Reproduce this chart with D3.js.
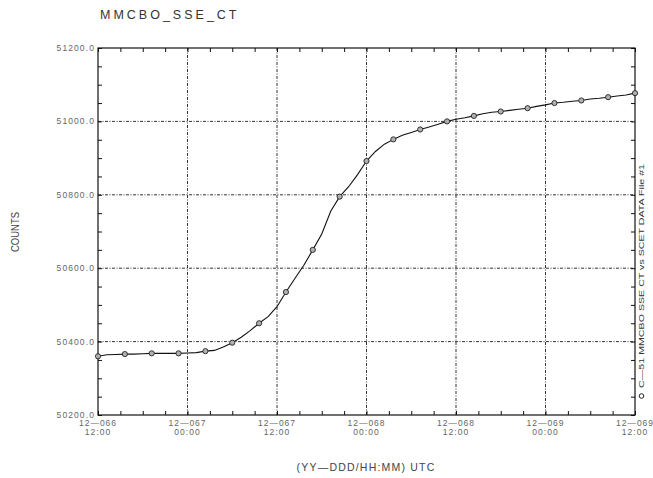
<!DOCTYPE html>
<html><head><meta charset="utf-8">
<script src="https://cdn.jsdelivr.net/npm/d3@7"></script>
<style>body{margin:0;background:#fff}svg{display:block}</style>
</head><body>
<svg id="c" width="653" height="478"></svg>
<script>
// hours since 12-066 12:00 UTC, step 1.2 h
const hours = d3.range(0, 61).map(k => k * 1.2);
const counts = [50360,50364,50365,50366,50366,50367,50368,50368,50368,50368,
  50369,50370,50374,50376,50385,50397,50412,50430,50450,50468,
  50495,50535,50572,50608,50650,50693,50755,50795,50822,50855,
  50892,50918,50938,50951,50962,50970,50978,50985,50992,51000,
  51006,51010,51015,51021,51025,51027,51030,51033,51036,51041,
  51045,51050,51052,51055,51057,51061,51063,51066,51069,51072,51077];
// marker every third sample
const markerIdx = d3.range(0, 61, 3);
const xMajor = [0, 12, 24, 36, 48, 60, 72];
const xTickLabels = [["12\u2014066","12:00"],["12\u2014067","00:00"],["12\u2014067","12:00"],
  ["12\u2014068","00:00"],["12\u2014068","12:00"],["12\u2014069","00:00"],["12\u2014069","12:00"]];
const yMajor = [50200, 50400, 50600, 50800, 51000, 51200];
const yTickLabels = ["50200.0","50400.0","50600.0","50800.0","51000.0","51200.0"];

const svg = d3.select("#c");
const x = d3.scaleLinear().domain([0, 72]).range([98, 635]);
const y = d3.scaleLinear().domain([50200, 51200]).range([415, 48]);
const L = x.range()[0], R = x.range()[1], T = y.range()[1], B = y.range()[0];

// grid
const grid = svg.append("g").attr("stroke", "#333").attr("stroke-width", 1).attr("stroke-dasharray", "3,1.5,1,1.5");
grid.selectAll("line.v").data(xMajor.slice(1, -1)).join("line")
  .attr("x1", d => x(d)).attr("x2", d => x(d)).attr("y1", T).attr("y2", B);
grid.selectAll("line.h").data(yMajor.slice(1, -1)).join("line").attr("class","h")
  .attr("y1", d => y(d)).attr("y2", d => y(d)).attr("x1", L).attr("x2", R);

// axes (ticks inside)
const minorX = d3.range(0, 73, 3), minorY = d3.range(50200, 51201, 50);
function styleAxis(g){ g.select(".domain").remove(); g.selectAll("text").remove(); g.selectAll("line").attr("stroke","#111"); }
svg.append("g").attr("transform", `translate(0,${B})`).call(d3.axisBottom(x).tickValues(minorX).tickSize(-4)).call(styleAxis);
svg.append("g").attr("transform", `translate(0,${T})`).call(d3.axisTop(x).tickValues(minorX).tickSize(-4)).call(styleAxis);
svg.append("g").attr("transform", `translate(${L},0)`).call(d3.axisLeft(y).tickValues(minorY).tickSize(-4)).call(styleAxis);
svg.append("g").attr("transform", `translate(${R},0)`).call(d3.axisRight(y).tickValues(minorY).tickSize(-4)).call(styleAxis);
svg.append("rect").attr("x", L).attr("y", T).attr("width", R - L).attr("height", B - T)
  .attr("fill", "none").attr("stroke", "#111").attr("stroke-width", 1.2);

// tick labels
const tickFont = "Liberation Sans, Arial, sans-serif";
svg.append("g").selectAll("text").data(yMajor).join("text")
  .attr("x", L - 3).attr("y", d => y(d) + 3).attr("text-anchor", "end")
  .attr("font-family", tickFont).attr("font-size", 8.5).attr("letter-spacing", 1.1).attr("fill", "#666")
  .text((d, i) => yTickLabels[i]);
const xl = svg.append("g").selectAll("text").data(xMajor).join("text")
  .attr("text-anchor", "middle").attr("font-family", tickFont).attr("font-size", 8.5)
  .attr("letter-spacing", 1).attr("fill", "#666");
xl.append("tspan").attr("x", d => x(d)).attr("y", B + 11).text((d, i) => xTickLabels[i][0]);
xl.append("tspan").attr("x", d => x(d)).attr("y", B + 20).text((d, i) => xTickLabels[i][1]);

// data line
const pts = hours.map((h, i) => [h, counts[i]]);
svg.append("path").datum(pts).attr("fill", "none").attr("stroke", "#111").attr("stroke-width", 1.1)
  .attr("d", d3.line().x(d => x(d[0])).y(d => y(d[1])));
svg.append("g").selectAll("circle").data(markerIdx).join("circle")
  .attr("cx", i => x(hours[i])).attr("cy", i => y(counts[i])).attr("r", 2.6)
  .attr("fill", "#b0b0b0").attr("stroke", "#222").attr("stroke-width", 0.9);

// titles
svg.append("text").attr("x", 100).attr("y", 19).attr("font-family", tickFont).attr("font-size", 12.5)
  .attr("letter-spacing", 3).attr("fill", "#333").text("MMCBO_SSE_CT");
svg.append("text").attr("x", 366).attr("y", 471).attr("text-anchor", "middle")
  .attr("font-family", tickFont).attr("font-size", 10.5).attr("letter-spacing", 1.2).attr("fill", "#444")
  .text("(YY\u2014DDD/HH:MM)  UTC");
svg.append("text").attr("transform", "translate(19,232) rotate(-90)").attr("text-anchor", "middle")
  .attr("font-family", "Liberation Sans Narrow, Liberation Sans, Arial, sans-serif").attr("font-size", 10.5)
  .attr("textLength", 40).attr("lengthAdjust", "spacingAndGlyphs").attr("fill", "#444").text("COUNTS");
// legend at right
svg.append("circle").attr("cx", 641.5).attr("cy", 396).attr("r", 2.3).attr("fill", "none").attr("stroke", "#222");
svg.append("text").attr("transform", "translate(644,388) rotate(-90)")
  .attr("font-family", "Liberation Sans Narrow, Liberation Sans, Arial, sans-serif").attr("font-size", 7.5)
  .attr("textLength", 224).attr("lengthAdjust", "spacingAndGlyphs").attr("fill", "#333")
  .text("C\u201451  MMCBO  SSE  CT  vs  SCET   DATA  File  #1");
</script>
</body></html>
